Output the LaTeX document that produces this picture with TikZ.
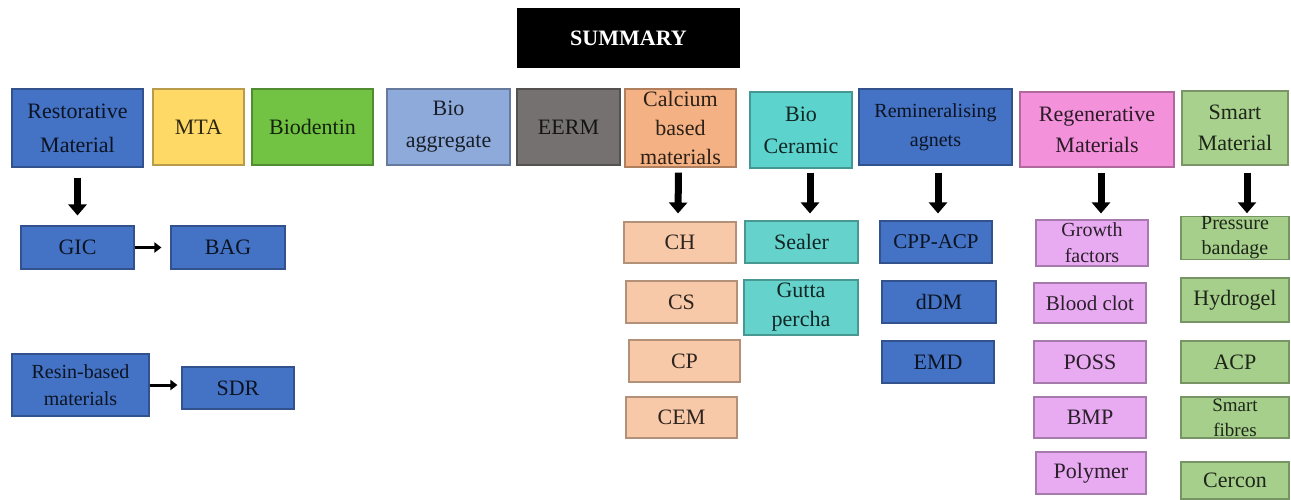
\documentclass[tikz,border=0pt]{standalone}
\usepackage{fontspec}
\setmainfont{Liberation Serif}
\usetikzlibrary{arrows.meta}
\definecolor{cBlue}{HTML}{4472C4}
\definecolor{cYellow}{HTML}{FFD966}
\definecolor{cGreen}{HTML}{72C244}
\definecolor{cLblue}{HTML}{8EAADB}
\definecolor{cGray}{HTML}{767171}
\definecolor{cOrange}{HTML}{F4B183}
\definecolor{cOrangeL}{HTML}{F8C9A8}
\definecolor{cTeal}{HTML}{5DD3CE}
\definecolor{cTealL}{HTML}{66D2CC}
\definecolor{cPink}{HTML}{F392DA}
\definecolor{cPinkL}{HTML}{E8AAF0}
\definecolor{cSmart}{HTML}{A9D18E}
\definecolor{cSmartL}{HTML}{A5CF8B}
\tikzset{
  box/.style={draw=#1!72!black, fill=#1, text=#1!18!black, line width=1.1pt,
    inner sep=0pt, align=center, font=\fontsize{22}{32}\selectfont},
  bigarrow/.style={line width=7pt, -{Triangle[width=18pt,length=11pt]}},
  smallarrow/.style={line width=3pt, -{Triangle[width=10pt,length=7pt]}}
}
\begin{document}
\begin{tikzpicture}[x=1pt,y=-1pt]
\fill[white] (0,0) rectangle (1291,499);
\useasboundingbox (0,0) rectangle (1291,499);
% title
\node[fill=black, text=white, inner sep=0pt, minimum width=223pt, minimum height=60pt,
  font=\fontsize{22}{26}\selectfont\bfseries] (summary) at (628.5,38) {SUMMARY};
% top row
\node[box=cBlue, minimum width=131pt, minimum height=78pt, font=\fontsize{22}{34}\selectfont] (rest) at (77.5,128) {Restorative\\Material};
\node[box=cYellow, minimum width=91pt, minimum height=76pt] (mta) at (198.5,127) {MTA};
\node[box=cGreen, minimum width=121pt, minimum height=76pt] (biod) at (312.5,127) {Biodentin};
\node[box=cLblue, minimum width=123pt, minimum height=76pt] (bioagg) at (448.5,127) {Bio\\aggregate};
\node[box=cGray, minimum width=103pt, minimum height=76pt] (eerm) at (568.5,127) {EERM};
\node[box=cOrange, minimum width=111pt, minimum height=78pt, font=\fontsize{22}{29}\selectfont] (calc) at (680.5,128) {Calcium\\based\\materials};
\node[box=cTeal, minimum width=102pt, minimum height=76pt] (bioc) at (801,130) {Bio\\Ceramic};
\node[box=cBlue, minimum width=153pt, minimum height=76pt, font=\fontsize{20}{29}\selectfont] (remin) at (935.5,127) {Remineralising\\agnets};
\node[box=cPink, minimum width=154pt, minimum height=75pt, font=\fontsize{22}{31}\selectfont] (regen) at (1097,129.5) {Regenerative\\Materials};
\node[box=cSmart, minimum width=106pt, minimum height=74pt, font=\fontsize{22}{31}\selectfont] (smart) at (1235,128) {Smart\\Material};
% restorative branch
\node[box=cBlue, minimum width=113pt, minimum height=43pt] (gic) at (77.5,247.5) {GIC};
\node[box=cBlue, minimum width=114pt, minimum height=43pt] (bag) at (228,247.5) {BAG};
\node[box=cBlue, minimum width=137pt, minimum height=62pt, font=\fontsize{20}{27}\selectfont] (resin) at (80.5,385) {Resin-based\\materials};
\node[box=cBlue, minimum width=112pt, minimum height=42pt] (sdr) at (238,388) {SDR};
% calcium branch
\node[box=cOrangeL, minimum width=112pt, minimum height=41pt] (ch) at (680,242.5) {CH};
\node[box=cOrangeL, minimum width=111pt, minimum height=42pt] (cs) at (681.5,302) {CS};
\node[box=cOrangeL, minimum width=111pt, minimum height=42pt] (cp) at (684.5,361) {CP};
\node[box=cOrangeL, minimum width=111pt, minimum height=41pt] (cem) at (681.5,417.5) {CEM};
% bioceramic branch
\node[box=cTealL, minimum width=113pt, minimum height=42pt] (sealer) at (801.5,242) {Sealer};
\node[box=cTealL, minimum width=114pt, minimum height=55pt, font=\fontsize{22}{29}\selectfont] (gutta) at (801,307.5) {Gutta\\percha};
% remineralising branch
\node[box=cBlue, minimum width=112pt, minimum height=42pt, font=\fontsize{21}{26}\selectfont] (cpp) at (936,242) {CPP-ACP};
\node[box=cBlue, minimum width=114pt, minimum height=42pt] (ddm) at (939,302) {dDM};
\node[box=cBlue, minimum width=112pt, minimum height=42pt] (emd) at (938,362) {EMD};
% regenerative branch
\node[box=cPinkL, minimum width=112pt, minimum height=46pt, font=\fontsize{20}{26}\selectfont] (growth) at (1092,243) {Growth\\factors};
\node[box=cPinkL, minimum width=112pt, minimum height=40pt, font=\fontsize{21}{26}\selectfont] (blood) at (1090,303) {Blood clot};
\node[box=cPinkL, minimum width=112pt, minimum height=42pt] (poss) at (1090,362) {POSS};
\node[box=cPinkL, minimum width=112pt, minimum height=41pt] (bmp) at (1090,417.5) {BMP};
\node[box=cPinkL, minimum width=110pt, minimum height=42pt] (polymer) at (1091,473) {Polymer};
% smart branch
\node[box=cSmartL, minimum width=108pt, minimum height=42pt, font=\fontsize{20}{25}\selectfont] (press) at (1235,238) {Pressure\\bandage};
\node[box=cSmartL, minimum width=108pt, minimum height=44pt] (hydro) at (1235,300) {Hydrogel};
\node[box=cSmartL, minimum width=108pt, minimum height=42pt] (acp) at (1235,362) {ACP};
\node[box=cSmartL, minimum width=108pt, minimum height=41pt, font=\fontsize{19}{25}\selectfont] (fibres) at (1235,417.5) {Smart\\fibres};
\node[box=cSmartL, minimum width=108pt, minimum height=37pt] (cercon) at (1235,480.5) {Cercon};
% connectors
\draw[bigarrow] ([yshift=-10pt]rest.south) -- ([yshift=10pt]gic.north);
\draw[bigarrow] ([xshift=-2pt,yshift=-5pt]calc.south) -- ([xshift=-2pt,yshift=8pt]ch.north);
\draw[bigarrow] ([xshift=9pt,yshift=-4pt]bioc.south) -- ([xshift=8.5pt,yshift=7pt]sealer.north);
\draw[bigarrow] ([xshift=2.5pt,yshift=-7pt]remin.south) -- ([xshift=2pt,yshift=7pt]cpp.north);
\draw[bigarrow] ([xshift=4pt,yshift=-5pt]regen.south) -- ([xshift=9pt,yshift=6pt]growth.north);
\draw[bigarrow] ([xshift=12pt,yshift=-7pt]smart.south) -- ([xshift=12pt,yshift=3pt]press.north);
\draw[smallarrow, shorten >=9pt] (gic.east) -- (bag.west);
\draw[smallarrow, shorten >=4pt] (resin.east) -- (resin.east -| sdr.west);
\end{tikzpicture}
\end{document}
